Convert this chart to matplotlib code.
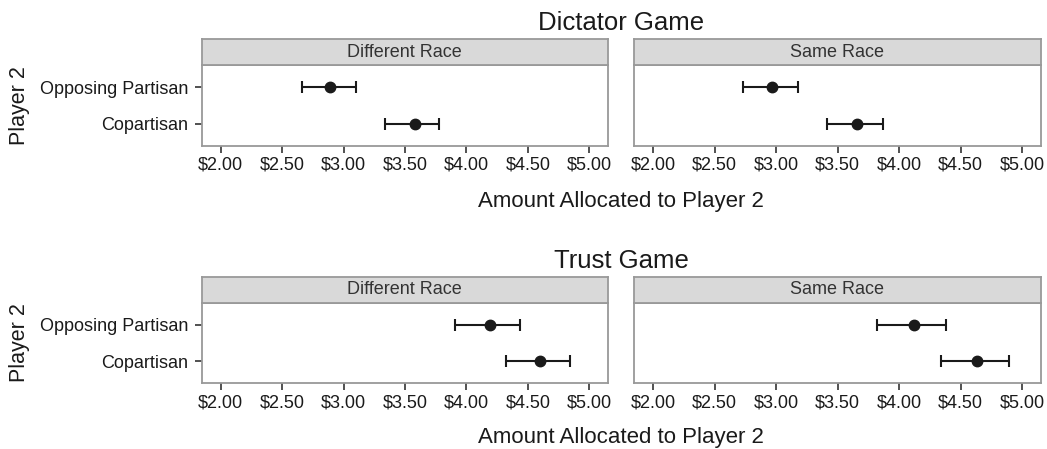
import numpy as np
import matplotlib
matplotlib.use("Agg")
import matplotlib.pyplot as plt

plt.rcParams['font.family'] = ['Liberation Sans', 'DejaVu Sans']

# === data ===
games = ["Dictator Game", "Trust Game"]
races = ["Different Race", "Same Race"]
partisans = ["Opposing Partisan", "Copartisan"]
tick_vals = [2.0, 2.5, 3.0, 3.5, 4.0, 4.5, 5.0]
tick_labels = ["$2.00", "$2.50", "$3.00", "$3.50", "$4.00", "$4.50", "$5.00"]

# [race][partisan]
dg_mean = [[2.89, 3.58], [2.97, 3.66]]
dg_low = [[2.66, 3.34], [2.73, 3.41]]
dg_high = [[3.10, 3.78], [3.18, 3.87]]

tg_mean = [[4.19, 4.60], [4.12, 4.63]]
tg_low = [[3.91, 4.32], [3.82, 4.34]]
tg_high = [[4.44, 4.84], [4.38, 4.89]]

game_data = {
    "Dictator Game": (dg_mean, dg_low, dg_high),
    "Trust Game": (tg_mean, tg_low, tg_high),
}

W, H = 1047, 449
fig = plt.figure(figsize=(W / 100, H / 100), dpi=100)

# pixel layout (left, right) for columns, (strip top, panel top, panel bottom) for rows
cols = [(202, 607.7), (634.3, 1040.7)]
rows = [(39.3, 65.3, 145.7), (277.3, 302.7, 383.0)]
title_y = [22.5, 260.5]
xlabel_y = [202, 438]

EDGE = "#999999"
INK = "#1a1a1a"


def frac_box(x0, x1, ytop, ybot):
    return [x0 / W, 1 - ybot / H, (x1 - x0) / W, (ybot - ytop) / H]


for gi, game in enumerate(games):
    mean, low, high = game_data[game]
    s_top, p_top, p_bot = rows[gi]
    for ri, race in enumerate(races):
        x0, x1 = cols[ri]
        ax = fig.add_axes(frac_box(x0, x1, p_top, p_bot))
        ypos = np.arange(1, len(partisans) + 1)
        m = np.array(mean[ri])
        lo = np.array(low[ri])
        hi = np.array(high[ri])
        ax.errorbar(m, ypos, xerr=[m - lo, hi - m], fmt="o", color=INK,
                    ecolor=INK, elinewidth=1.5, capsize=4.5, capthick=1.5,
                    markersize=7.5, zorder=3)
        ax.set_xlim(1.848, 5.15)
        ax.set_ylim(2.6, 0.4)
        ax.set_xticks(tick_vals)
        ax.set_xticklabels(tick_labels)
        ax.set_yticks(ypos)
        if ri == 0:
            ax.set_yticklabels(partisans)
            ax.tick_params(axis="y", length=5, width=1.2, color="#333333",
                           labelsize=13, labelcolor=INK, pad=5)
        else:
            ax.set_yticklabels([])
            ax.tick_params(axis="y", length=0)
        ax.tick_params(axis="x", length=5, width=1.2, color="#333333",
                       labelsize=13, labelcolor=INK, pad=3)
        for sp in ax.spines.values():
            sp.set_color(EDGE)
            sp.set_linewidth(1.3)

        # strip header
        sax = fig.add_axes(frac_box(x0, x1, s_top, p_top))
        sax.set_facecolor("#d9d9d9")
        sax.set_xticks([])
        sax.set_yticks([])
        for sp in sax.spines.values():
            sp.set_color(EDGE)
            sp.set_linewidth(1.3)
        sax.text(0.5, 0.5, race, ha="center", va="center", fontsize=13,
                 color="#333333", transform=sax.transAxes)

    mid_x = (cols[0][0] + cols[1][1]) / 2 / W
    fig.text(mid_x, 1 - title_y[gi] / H, game, ha="center", va="center",
             fontsize=18.5, color=INK)
    fig.text(mid_x, 1 - xlabel_y[gi] / H, "Amount Allocated to Player 2",
             ha="center", va="center", fontsize=16, color=INK)
    fig.text(20 / W, 1 - (p_top + p_bot) / 2 / H, "Player 2", rotation=90,
             ha="center", va="center", fontsize=15.5, color=INK)

fig.savefig("out.png", dpi=100, facecolor="white")
